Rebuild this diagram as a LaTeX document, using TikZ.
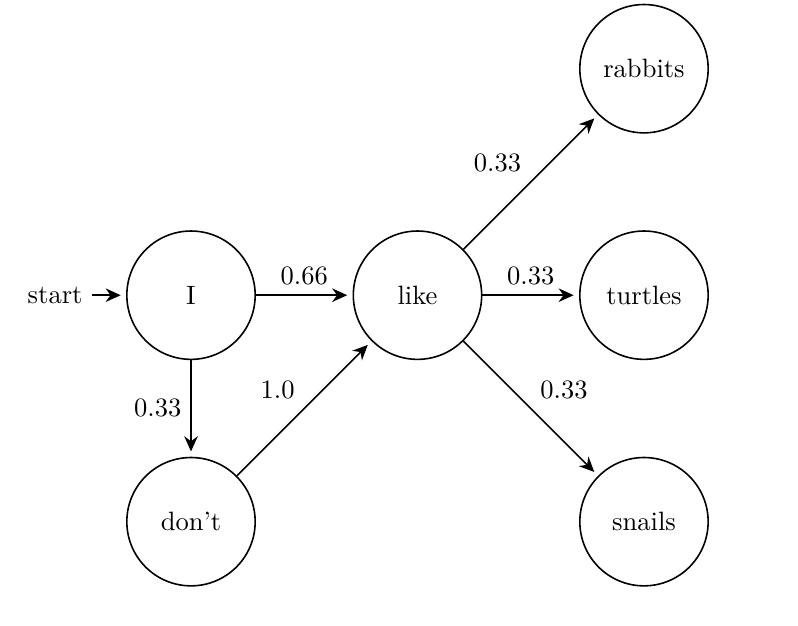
\documentclass[tikz,border=0pt]{standalone}
\usepackage{tikz}
\usetikzlibrary{positioning, arrows.meta}

\begin{document}
\begin{tikzpicture}[
    >={Stealth[width=1.8mm,length=2mm]},
    word/.style={circle, draw=black, semithick, minimum size=1.7cm},
    edge/.style={->, semithick, shorten >=2pt},
    on grid,
    node distance=3cm % centre to centre
]
\useasboundingbox (-2.53,-4.38) rectangle (8.04,3.91);

% Nodes
\node[word] (I) {I};
\node (start) [left=1.8cm of I] {start};
\node[word] (like) [right=of I] {like};
\node[word] (dont) [below=of I] {don't};
\node[word] (turtles) [right=of like] {turtles};
\node[word] (rabbits) [above=of turtles] {rabbits};
\node[word] (snails) [below=of turtles] {snails};

% Edges
\draw[edge] (start) -- (I);
\draw[edge] (I) -- node[above] {0.66} (like);
\draw[edge] (I) -- node[left] {0.33} (dont);
\draw[edge] (dont) -- node[above left] {1.0} (like);
\draw[edge] (like) -- node[above left] {0.33} (rabbits);
\draw[edge] (like) -- node[above] {0.33} (turtles);
\draw[edge] (like) -- node[above right] {0.33} (snails);

\end{tikzpicture}
\end{document}
